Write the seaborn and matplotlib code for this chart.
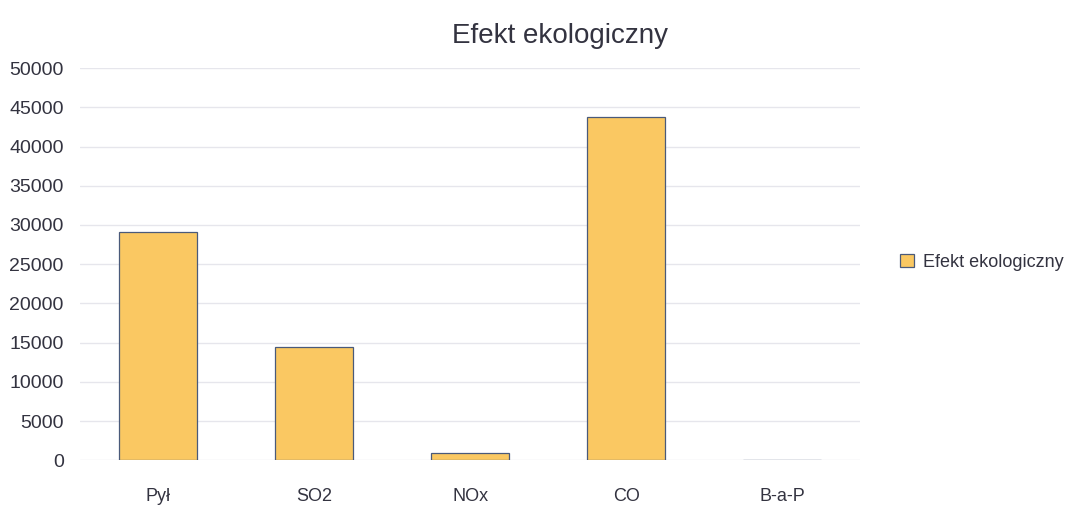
import matplotlib
matplotlib.use("Agg")
import matplotlib.pyplot as plt
import seaborn as sns
import pandas as pd

categories = ["Pył", "SO2", "NOx", "CO", "B-a-P"]
values = [29100, 14400, 900, 43700, 40]
series_name = "Efekt ekologiczny"
title = "Efekt ekologiczny"
yticks = [0, 5000, 10000, 15000, 20000, 25000, 30000, 35000, 40000, 45000, 50000]

sns.set_theme(style="white")
plt.rcParams["font.family"] = ["Liberation Sans", "DejaVu Sans"]

df = pd.DataFrame({"kat": categories, "val": values, "seria": series_name})

fig = plt.figure(figsize=(10.86, 5.08), dpi=100)
ax = fig.add_axes([0.074, 0.094, 0.718, 0.772])

sns.barplot(data=df, x="kat", y="val", hue="seria", palette=["#FAC862"],
            saturation=1, width=0.5, edgecolor="#4a5a7a", linewidth=0.9,
            ax=ax, zorder=3)

ax.set_ylim(0, 50000)
ax.set_xlim(-0.5, 4.5)
ax.set_yticks(yticks)
ax.set_yticklabels([str(t) for t in yticks], fontsize=14, color="#333340")
ax.tick_params(axis="x", labelsize=13, colors="#333340", pad=20, length=0)
ax.tick_params(axis="y", length=0, pad=12)
ax.yaxis.grid(True, color="#e6e6ec", linewidth=1, zorder=0)
ax.set_axisbelow(True)
for s in ax.spines.values():
    s.set_visible(False)
ax.set_xlabel("")
ax.set_ylabel("")

fig.text(0.516, 0.93, title, ha="center", va="center", fontsize=20, color="#333340")

leg = ax.legend(loc="center left", bbox_to_anchor=(1.03, 0.505), frameon=False,
                fontsize=13, handlelength=0.8, handleheight=0.8, handletextpad=0.5)
for t in leg.get_texts():
    t.set_color("#333340")

fig.savefig("out.png", dpi=100)
